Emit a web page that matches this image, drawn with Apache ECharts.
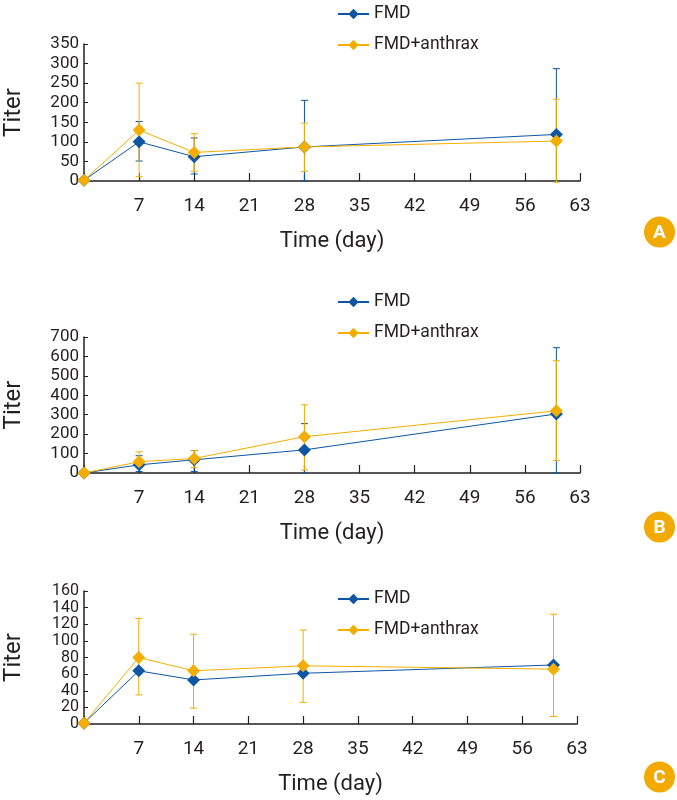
<!DOCTYPE html>
<html>
<head>
<meta charset="utf-8">
<script src="https://cdn.jsdelivr.net/npm/echarts@6/dist/echarts.min.js"></script>
<style>
html,body{margin:0;padding:0;background:#fff;}
#c{width:677px;height:800px;}
</style>
</head>
<body>
<div id="c"></div>
<script>
// ---- data ----
const days = [0, 7, 14, 28, 60];
const seriesNames = ['FMD', 'FMD+anthrax'];
const panelLetters = ['A', 'B', 'C'];

// Panel A
const fmdA = [2, 100, 62, 87, 119];
const fmdLowA = [null, 51, 18, 0, 0];
const fmdHighA = [null, 152, 110, 206, 287];
const antA = [2, 130, 73, 87, 102];
const antLowA = [null, 11, 25, 24, -3];
const antHighA = [null, 250, 121, 148, 209];

// Panel B
const fmdB = [0, 42, 68, 119, 304];
const fmdLowB = [null, 8, 8, 0, 0];
const fmdHighB = [null, 89, 116, 254, 645];
const antB = [0, 58, 75, 187, 320];
const antLowB = [null, 30, 29, 15, 64];
const antHighB = [null, 109, 115, 351, 578];

// Panel C
const fmdC = [1, 64, 53, 61, 71];
const antC = [1, 80, 64, 70, 66];
const antLowC = [null, 35, 19, 26, 9];
const antHighC = [null, 127, 108, 113, 132];

// axis scales
const yMax = [350, 700, 160];
const yStep = [50, 100, 20];
const xMax = 63, xStep = 7;

// ---- styling ----
const BLUE = '#0e56a2';
const ORANGE = '#f4ae00';
const INK = '#231f20';
const FONT = 'Roboto, "Liberation Sans", Arial, sans-serif';

const grids = [
  {left: 84, top: 44, width: 496, height: 137, outerBoundsMode: 'none', containLabel: false},
  {left: 84, top: 337, width: 496, height: 136, outerBoundsMode: 'none', containLabel: false},
  {left: 84, top: 591, width: 493, height: 133, outerBoundsMode: 'none', containLabel: false}
];
const legendTops = [0, 288, 585];
const yLabelSize = [17, 17, 16];
const badgeY = [232, 527, 777];

function pairs(xs, ys) { return xs.map((x, i) => [x, ys[i]]); }
function errData(xs, lo, hi) {
  const out = [];
  xs.forEach((x, i) => { if (lo[i] != null && hi[i] != null) out.push([x, lo[i], hi[i]]); });
  return out;
}
function errRender(params, api) {
  const x = api.value(0), lo = api.value(1), hi = api.value(2);
  const p1 = api.coord([x, hi]);
  const p2 = api.coord([x, lo]);
  const w = 3.5;
  const style = {stroke: api.visual('color'), lineWidth: 1, fill: null};
  return {
    type: 'group',
    children: [
      {type: 'line', shape: {x1: p1[0], y1: p1[1], x2: p2[0], y2: p2[1]}, style: style},
      {type: 'line', shape: {x1: p1[0] - w, y1: p1[1], x2: p1[0] + w, y2: p1[1]}, style: style},
      {type: 'line', shape: {x1: p2[0] - w, y1: p2[1], x2: p2[0] + w, y2: p2[1]}, style: style}
    ]
  };
}

const panels = [
  {fmd: fmdA, ant: antA, fmdErr: errData(days, fmdLowA, fmdHighA), antErr: errData(days, antLowA, antHighA)},
  {fmd: fmdB, ant: antB, fmdErr: errData(days, fmdLowB, fmdHighB), antErr: errData(days, antLowB, antHighB)},
  {fmd: fmdC, ant: antC, fmdErr: [], antErr: errData(days, antLowC, antHighC)}
];

const xAxes = [], yAxes = [], series = [], legends = [], graphics = [];
panels.forEach((p, k) => {
  xAxes.push({
    type: 'value', gridIndex: k, min: 0, max: xMax, interval: xStep,
    name: 'Time (day)', nameLocation: 'middle', nameGap: 49,
    nameTextStyle: {fontSize: 22, color: INK, fontFamily: FONT},
    axisLine: {lineStyle: {color: INK, width: 1.5}},
    axisTick: {inside: true, length: 8, lineStyle: {color: INK, width: 1.2}},
    axisLabel: {fontSize: 19, color: INK, fontFamily: FONT, margin: 16,
      formatter: v => (v === 0 ? '' : String(v))},
    splitLine: {show: false}
  });
  yAxes.push({
    type: 'value', gridIndex: k, min: 0, max: yMax[k], interval: yStep[k],
    name: 'Titer', nameLocation: 'middle', nameGap: 58, nameRotate: 90,
    nameTextStyle: {fontSize: 24, color: INK, fontFamily: FONT},
    axisLine: {show: true, lineStyle: {color: INK, width: 1.5}},
    axisTick: {show: true, inside: true, length: 4, lineStyle: {color: INK, width: 1}},
    axisLabel: {fontSize: yLabelSize[k], color: INK, fontFamily: FONT, margin: 5,
      showMinLabel: true, showMaxLabel: true, hideOverlap: false, lineHeight: 14},
    splitLine: {show: false}
  });
  series.push({
    type: 'custom', name: 'FMD err ' + k, xAxisIndex: k, yAxisIndex: k,
    renderItem: errRender, data: p.fmdErr, encode: {x: 0, y: [1, 2]},
    itemStyle: {color: BLUE}, z: 1, clip: false, silent: true
  });
  series.push({
    type: 'custom', name: 'FMD+anthrax err ' + k, xAxisIndex: k, yAxisIndex: k,
    renderItem: errRender, data: p.antErr, encode: {x: 0, y: [1, 2]},
    itemStyle: {color: ORANGE}, z: 2, clip: false, silent: true
  });
  series.push({
    type: 'line', name: seriesNames[0], xAxisIndex: k, yAxisIndex: k,
    data: pairs(days, p.fmd), symbol: 'diamond', symbolSize: 13,
    itemStyle: {color: BLUE}, lineStyle: {color: BLUE, width: 1}, z: 3
  });
  series.push({
    type: 'line', name: seriesNames[1], xAxisIndex: k, yAxisIndex: k,
    data: pairs(days, p.ant), symbol: 'diamond', symbolSize: 13,
    itemStyle: {color: ORANGE}, lineStyle: {color: ORANGE, width: 1}, z: 4
  });
  legends.push({
    data: seriesNames, orient: 'vertical', left: 332, top: legendTops[k],
    itemWidth: 31, itemHeight: 13, itemGap: 13,
    textStyle: {fontSize: 17.5, color: INK, fontFamily: FONT}
  });
  graphics.push({
    type: 'group', left: 644, top: badgeY[k] - 15.5,
    children: [
      {type: 'circle', shape: {cx: 15.5, cy: 15.5, r: 15.5}, style: {fill: '#f2a900'}},
      {type: 'text', x: 15.5, y: 16.5, style: {text: panelLetters[k], fill: '#fff',
        font: 'bold 19px ' + FONT, align: 'center', verticalAlign: 'middle'}}
    ]
  });
});

const chart = echarts.init(document.getElementById('c'), null, {renderer: 'canvas'});
chart.setOption({
  animation: false,
  backgroundColor: '#fff',
  grid: grids,
  xAxis: xAxes,
  yAxis: yAxes,
  legend: legends,
  series: series,
  graphic: graphics
});
</script>
</body>
</html>
